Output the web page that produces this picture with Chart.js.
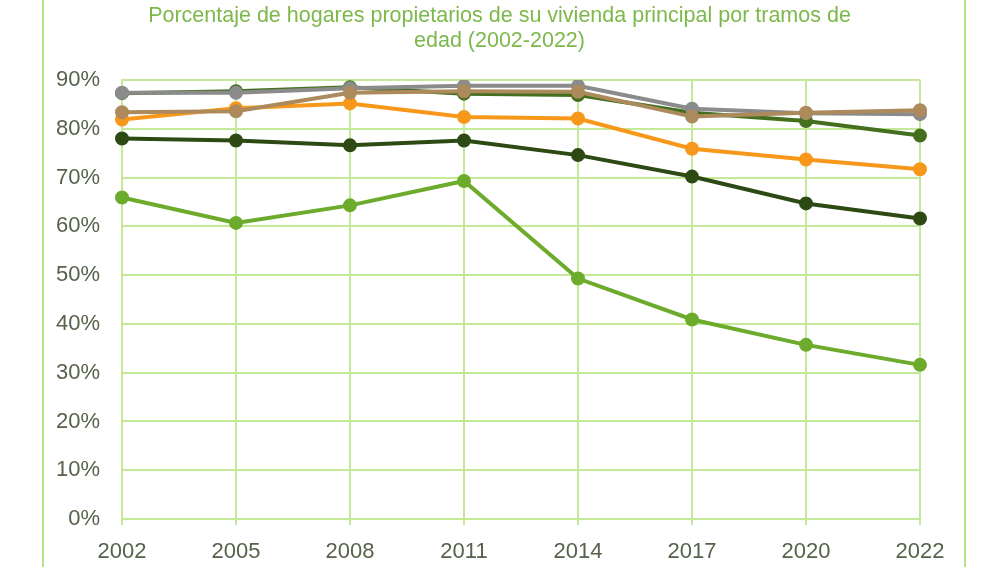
<!DOCTYPE html>
<html>
<head>
<meta charset="utf-8">
<script src="https://cdn.jsdelivr.net/npm/chart.js@4.4.0/dist/chart.umd.min.js"></script>
<style>
  html, body { margin: 0; padding: 0; background: #fff; }
  #wrap { width: 999px; height: 567px; position: relative; }
  #title {
    position: absolute; left: 0; top: 3px; width: 999px;
    text-align: center; color: #7cb84a;
    font-family: "Liberation Sans Narrow", "Liberation Sans", sans-serif;
    font-size: 21.5px; line-height: 25px; z-index: 2;
  }
</style>
</head>
<body>
<div id="wrap">
  <div id="title">Porcentaje de hogares propietarios de su vivienda principal por tramos de<br>edad (2002-2022)</div>
  <canvas id="lineChart"></canvas>
</div>
<script>
// Years on the x axis
const years = ['2002', '2005', '2008', '2011', '2014', '2017', '2020', '2022'];

// Ownership share (%) by age bracket
const menos35 = [65.9, 60.7, 64.3, 69.3, 49.3, 40.9, 35.7, 31.6];
const de35a44 = [78.0, 77.6, 76.6, 77.6, 74.6, 70.2, 64.7, 61.6];
const de45a54 = [81.9, 84.2, 85.2, 82.4, 82.1, 75.9, 73.7, 71.7];
const de55a64 = [87.3, 87.7, 88.5, 87.2, 86.9, 83.3, 81.6, 78.6];
const de65a74 = [87.4, 87.4, 88.3, 88.8, 88.8, 84.1, 83.2, 83.0];
const mas74   = [83.4, 83.6, 87.4, 87.7, 87.6, 82.5, 83.3, 83.8];

const yTicks = [0, 10, 20, 30, 40, 50, 60, 70, 80, 90];

const gridGreen = '#c4ea98';
const labelColor = '#56624a';
const fontFamily = '"Liberation Sans Narrow", "Liberation Sans", sans-serif';

// Helper for one line series
const makeSeries = (label, data, color, width) => ({
    label: label,
    data: data,
    borderColor: color,
    backgroundColor: color,
    pointBackgroundColor: color,
    pointBorderColor: color,
    borderWidth: width,
    pointRadius: 5,
    pointHoverRadius: 5,
    tension: 0
});

// Outer frame lines of the original figure
const framePlugin = {
    id: 'frame',
    beforeDraw: (chart) => {
        const ctx = chart.ctx;
        ctx.save();
        ctx.strokeStyle = '#b5e285';
        ctx.lineWidth = 2;
        ctx.beginPath();
        ctx.moveTo(43, 0); ctx.lineTo(43, chart.height);
        ctx.moveTo(965, 0); ctx.lineTo(965, chart.height);
        ctx.stroke();
        ctx.restore();
    }
};

const ctx = document.getElementById('lineChart').getContext('2d');
new Chart(ctx, {
    type: 'line',
    data: {
        labels: years,
        // first dataset is drawn on top
        datasets: [
            makeSeries('75 y más', mas74, '#ad8a5c', 4),
            makeSeries('65-74', de65a74, '#8b8b8b', 4),
            makeSeries('55-64', de55a64, '#446f1f', 4),
            makeSeries('45-54', de45a54, '#f7981b', 4),
            makeSeries('35-44', de35a44, '#2e4a14', 4),
            makeSeries('Menos de 35', menos35, '#6cab2c', 4)
        ]
    },
    options: {
        responsive: true,
        maintainAspectRatio: false,
        animation: false,
        layout: { padding: { left: 0, right: 79, top: 80, bottom: 0 } },
        plugins: {
            legend: { display: false },
            tooltip: { enabled: false },
            title: { display: false }
        },
        scales: {
            x: {
                offset: false,
                grid: { color: gridGreen, lineWidth: 2, tickLength: 6, drawTicks: true },
                border: { color: gridGreen, width: 2 },
                ticks: {
                    color: labelColor,
                    font: { family: fontFamily, size: 22 },
                    padding: 14,
                    maxRotation: 0
                },
                afterFit: (scale) => { scale.height = 48; }
            },
            y: {
                min: 0,
                max: 90,
                afterBuildTicks: (scale) => { scale.ticks = yTicks.map(v => ({ value: v })); },
                grid: { color: gridGreen, lineWidth: 2, drawTicks: false },
                border: { color: gridGreen, width: 2 },
                ticks: {
                    color: labelColor,
                    font: { family: fontFamily, size: 22 },
                    padding: 22,
                    callback: (v) => v + '%'
                },
                afterFit: (scale) => { scale.width = 122; }
            }
        }
    },
    plugins: [framePlugin]
});
</script>
</body>
</html>
